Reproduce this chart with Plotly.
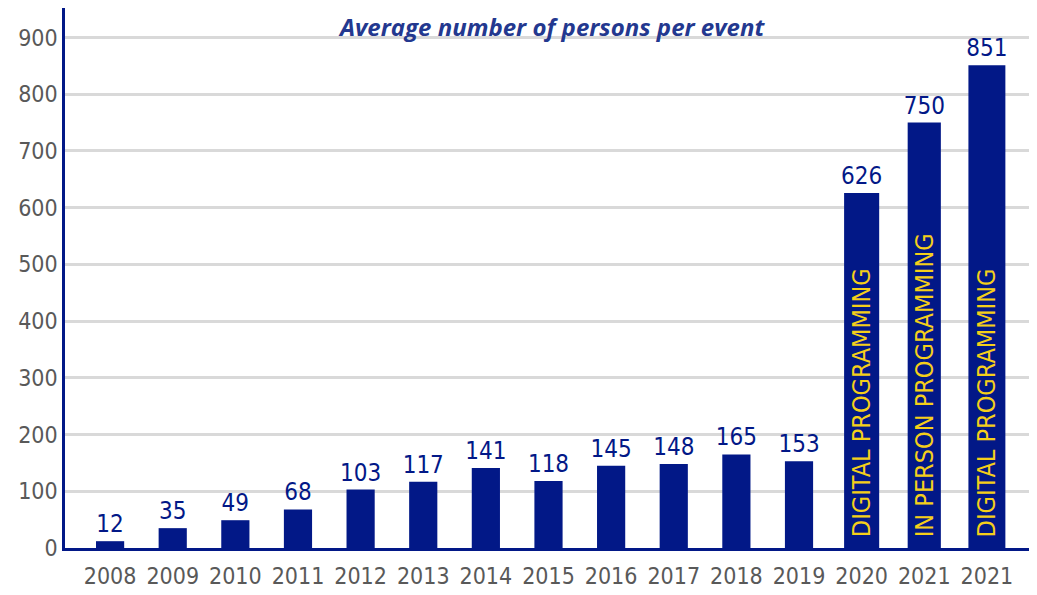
import plotly.graph_objects as go

# ── Data ──
years = ["2008", "2009", "2010", "2011", "2012", "2013", "2014", "2015",
         "2016", "2017", "2018", "2019", "2020", "2021", "2021"]
persons = [12, 35, 49, 68, 103, 117, 141, 118, 145, 148, 165, 153, 626, 750, 851]
bar_notes = ["", "", "", "", "", "", "", "", "", "", "", "",
             "DIGITAL PROGRAMMING", "IN PERSON PROGRAMMING", "DIGITAL PROGRAMMING"]

NAVY = "#021887"
YELLOW = "#f5cf1a"
FONT = "DejaVu Sans Condensed, Liberation Sans Narrow, sans-serif"

x_pos = list(range(len(years)))
widths = [0.45] * 12 + [0.56, 0.53, 0.59]

fig = go.Figure(go.Bar(
    x=x_pos, y=persons, width=widths,
    marker=dict(color=NAVY, line=dict(width=0)),
    text=[str(v) for v in persons], textposition="outside",
    constraintext="none",
    textfont=dict(family=FONT, size=24, color=NAVY),
    cliponaxis=False,
))

for i, note in enumerate(bar_notes):
    if note:
        fig.add_annotation(x=x_pos[i], y=0, text=note, textangle=-90,
                           showarrow=False, yanchor="bottom", yshift=9,
                           font=dict(family=FONT, size=25, color=YELLOW))

# title as an annotation so its box stays inside the figure
fig.add_annotation(text="<b><i>Average number of persons per event</i></b>",
                   xref="paper", yref="paper", x=0.5, y=1, xanchor="center",
                   yanchor="top", yshift=-1, borderpad=0, showarrow=False,
                   font=dict(family="Open Sans, sans-serif", size=24, color="#23388f"))

# page body has an 8px margin, so the figure is sized/offset to compensate
fig.update_layout(
    width=1029, height=587,
    margin=dict(l=57, r=0, t=0, b=47),
    paper_bgcolor="white", plot_bgcolor="white",
    showlegend=False,
)
fig.update_xaxes(tickvals=x_pos, ticktext=years, range=[-0.72, 14.8],
                 showline=True, linecolor=NAVY, linewidth=2.5, ticks="",
                 ticklabelstandoff=6,
                 tickfont=dict(family=FONT, size=23, color="#595959"),
                 showgrid=False)
fig.update_yaxes(range=[0, 952], tickvals=list(range(0, 1000, 100)),
                 showline=True, linecolor=NAVY, linewidth=2.5, ticks="",
                 gridcolor="#d9d9d9", gridwidth=3, zeroline=False,
                 tickfont=dict(family=FONT, size=23, color="#595959"))

fig.write_html("out.html")
